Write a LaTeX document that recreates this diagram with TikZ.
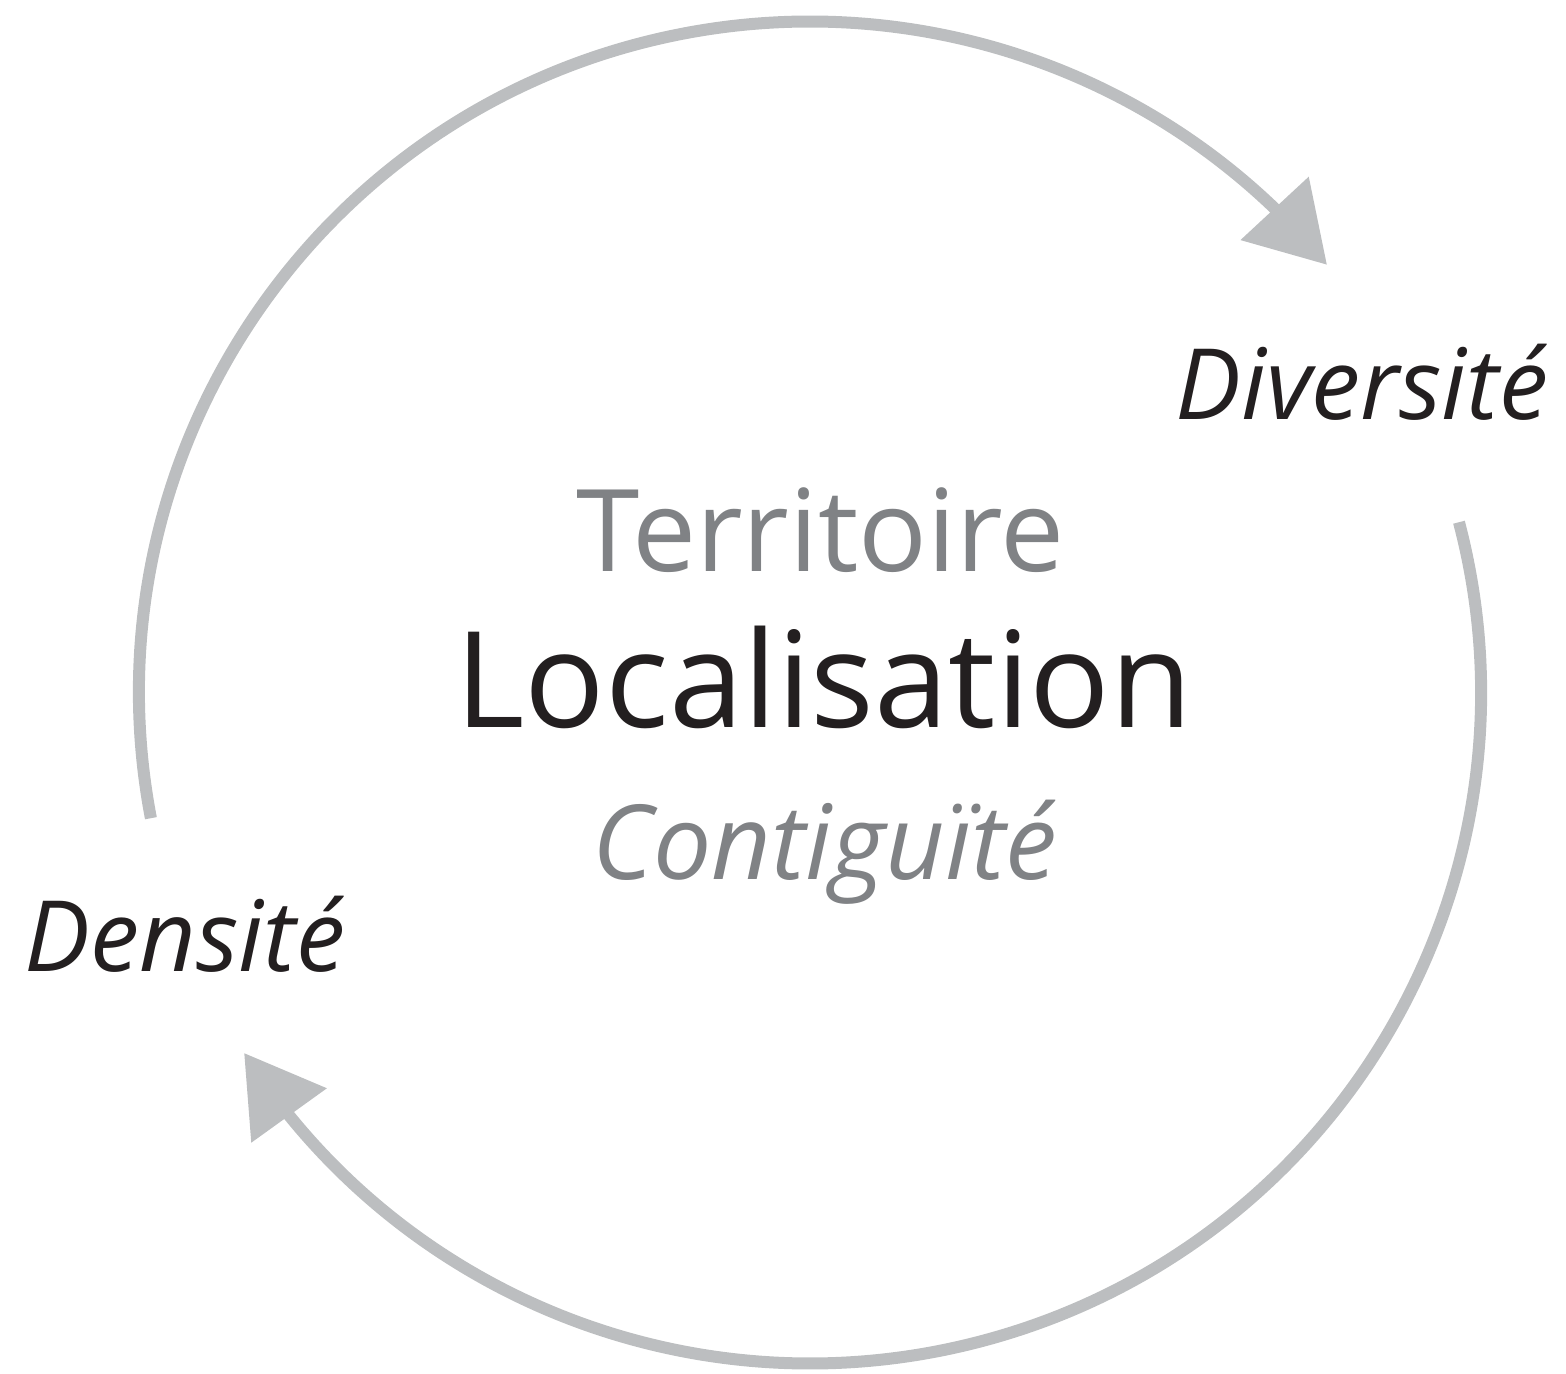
\documentclass[tikz,border=0pt]{standalone}
\usepackage{fontspec}
\setsansfont{Open Sans}
\usepackage{tikz}
\usetikzlibrary{arrows.meta,bending,calc}
\definecolor{ringgray}{HTML}{BCBEC0}
\definecolor{txtgray}{HTML}{808285}
\definecolor{txtblack}{HTML}{231F20}
\tikzset{
	word/.style = {anchor=base, inner sep=0pt, font=\sffamily},
	main_w/.style = {word, txtblack, font=\sffamily\fontsize{38}{38}\selectfont},
	sub_w/.style = {word, txtgray, font=\sffamily\fontsize{32.5}{32.5}\selectfont},
	subit_w/.style = {word, txtgray, font=\sffamily\itshape\fontsize{29.5}{29.5}\selectfont},
	pole_w/.style = {word, txtblack, font=\sffamily\itshape\fontsize{28}{28}\selectfont},
	ring/.style = {ringgray, line width=0.12cm,
		-{Triangle[length=0.77cm, width=0.9cm]}}
}
\begin{document}
\begin{tikzpicture}
\useasboundingbox (0,0) rectangle (15.66,13.74);
\coordinate (ctr) at (8.10,6.815);
\coordinate (dens_end) at ($(ctr)+(190.8:6.71)$);
\coordinate (div_end) at ($(ctr)+(14.7:6.71)$);
% labels
\node [sub_w] (terr) at (8.21,8.02) {Territoire};
\node [main_w] (loc) at (8.24,6.46) {Localisation};
\node [subit_w] (cont) at (8.25,4.94) {Contiguïté};
\node [pole_w] (div) at (13.62,9.54) {Diversité};
\node [pole_w] (dens) at (1.85,4.02) {Densité};
% cycle
\draw [ring] (dens_end) arc [start angle=190.8, end angle=39.6, radius=6.71];
\draw [ring] (div_end) arc [start angle=14.7, end angle=-147.5, radius=6.71];
\end{tikzpicture}
\end{document}
